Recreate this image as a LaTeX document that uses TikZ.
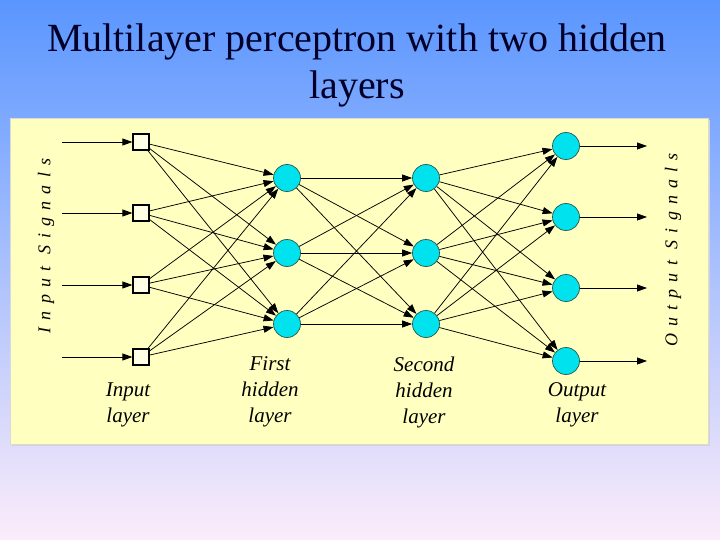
\documentclass[tikz,border=0pt]{standalone}
\usepackage{fontspec}
\setmainfont{Liberation Serif}
\usetikzlibrary{arrows.meta}
\definecolor{bgtop}{RGB}{90,150,255}
\definecolor{bgbot}{RGB}{252,236,250}
\definecolor{panel}{RGB}{255,255,192}
\definecolor{neuron}{RGB}{0,226,238}
\definecolor{neuronedge}{RGB}{40,90,80}
\definecolor{titlecol}{RGB}{0,0,40}
\begin{document}
\begin{tikzpicture}[x=1pt,y=-1pt,
  inbox/.style={draw=black,line width=1.2pt,fill=white!60!panel,minimum size=16pt,inner sep=0pt},
  neur/.style={circle,draw=neuronedge,line width=0.7pt,fill=neuron,minimum size=27pt,inner sep=0pt},
  conn/.style={line width=0.75pt,-{Triangle[length=10pt,width=7pt]}},
  lab/.style={font=\fontsize{21}{26}\selectfont\itshape,align=center},
  sig/.style={font=\fontsize{18}{20}\selectfont\itshape\addfontfeatures{LetterSpace=40},rotate=90},
  ttl/.style={font=\fontsize{40}{47}\selectfont,anchor=base,text=titlecol}]
\useasboundingbox (0,0) rectangle (720,540);
\shade[top color=bgtop,bottom color=bgbot] (0,0) rectangle (720,540);
% title
\node[ttl] (t1) at (357,52) {Multilayer perceptron with two hidden};
\node[ttl] (t2) at (357,99) {layers};
% panel
\fill[gray!35] (12,120) rectangle (710,446);
\filldraw[fill=panel,draw=gray!30] (10,118) rectangle (708,444);
% nodes
\foreach \i/\y in {1/142,2/213,3/285,4/357}{
  \node[inbox] (i\i) at (141,\y) {};
  \coordinate (s\i) at (62,\y);
}
\foreach \i/\y in {1/178,2/253,3/324}{
  \node[neur] (h\i) at (287,\y) {};
  \node[neur] (g\i) at (426,\y) {};
}
\foreach \i/\y in {1/146,2/217,3/288,4/361}{
  \node[neur] (o\i) at (566,\y) {};
  \coordinate (e\i) at (647,\y);
}
% connections
\foreach \i in {1,...,4}{
  \draw[conn] (s\i) -- (i\i.west);
  \draw[conn] (o\i) -- (e\i);
  \foreach \j in {1,2,3}{
    \draw[conn] (i\i) -- (h\j);
    \draw[conn] (g\j) -- (o\i);
  }
}
\foreach \i in {1,2,3}{
  \foreach \j in {1,2,3}{
    \draw[conn] (h\i) -- (g\j);
  }
}
% labels
\node[lab] (li) at (128,405) {Input\\layer};
\node[lab] (lh1) at (270,392) {First\\hidden\\layer};
\node[lab] (lh2) at (424,392) {Second\\hidden\\layer};
\node[lab] (lo) at (577,405) {Output\\layer};
\node[sig] (insig) at (46,246) {Input Signals};
\node[sig] (outsig) at (673,250) {Output Signals};
\end{tikzpicture}
\end{document}
